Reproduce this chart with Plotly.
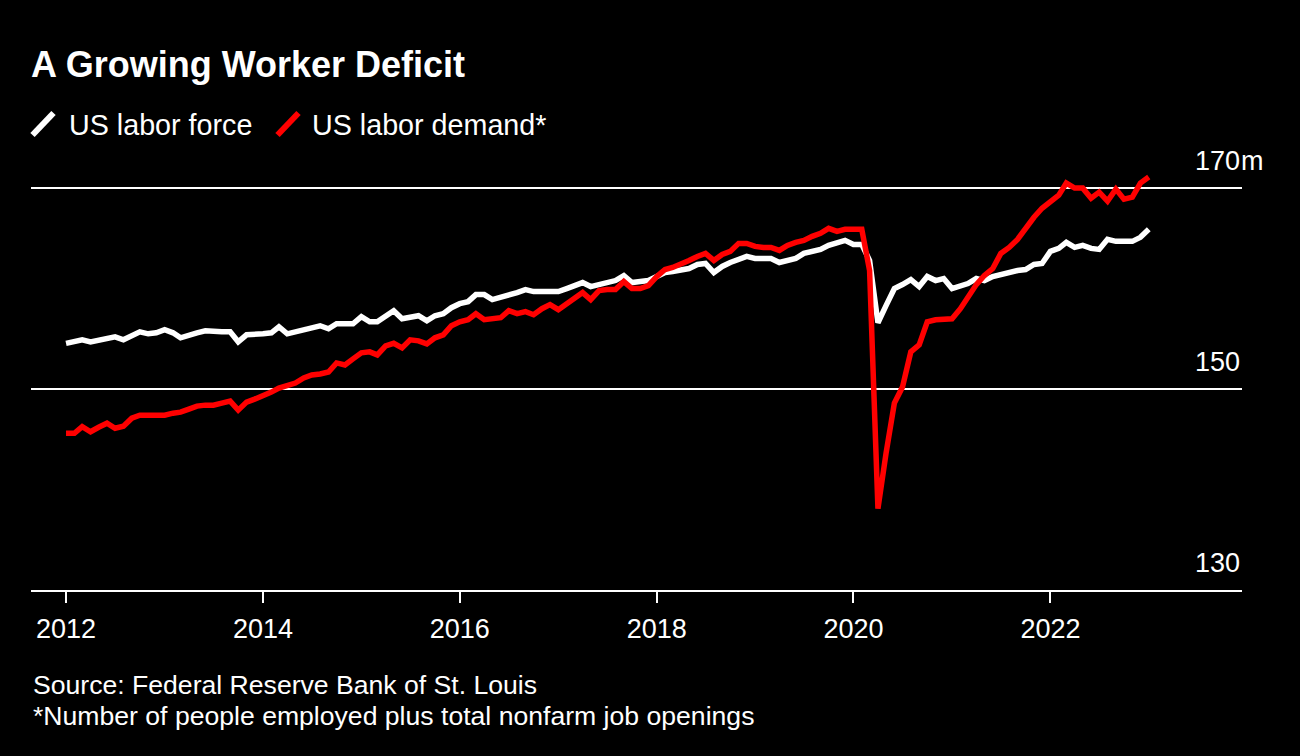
import pandas as pd
import plotly.graph_objects as go

# monthly readings, Jan 2012 - Jan 2023 (millions)
months = pd.date_range("2012-01-01", periods=133, freq="MS")

labor_force = [
    154.55, 154.7, 154.9, 154.7, 154.9, 155.1, 155.2, 154.9, 155.3, 155.7, 155.5, 155.6,  # 2012
    155.9, 155.6, 155.1, 155.4, 155.6, 155.8, 155.7, 155.7, 155.7, 154.7, 155.4, 155.4,  # 2013
    155.5, 155.6, 156.2, 155.5, 155.7, 155.9, 156.1, 156.3, 156.0, 156.5, 156.5, 156.5,  # 2014
    157.2, 156.7, 156.7, 157.2, 157.8, 157.0, 157.1, 157.3, 156.8, 157.3, 157.5, 158.1,  # 2015
    158.5, 158.7, 159.4, 159.4, 158.9, 159.1, 159.3, 159.6, 159.9, 159.7, 159.7, 159.7,  # 2016
    159.7, 160.0, 160.3, 160.6, 160.2, 160.4, 160.6, 160.8, 161.3, 160.6, 160.7, 160.8,  # 2017
    161.2, 161.6, 161.7, 161.8, 162.0, 162.4, 162.5, 161.6, 162.2, 162.6, 162.9, 163.2,  # 2018
    163.0, 163.0, 163.0, 162.6, 162.8, 163.0, 163.5, 163.7, 163.9, 164.3, 164.5, 164.8,  # 2019
    164.4, 164.4, 162.8, 156.6, 158.3, 160.0, 160.4, 160.9, 160.2, 161.2, 160.8, 161.0,  # 2020
    160.0, 160.3, 160.5, 161.0, 160.8, 161.2, 161.4, 161.7, 161.8, 161.9, 162.4, 162.5,  # 2021
    163.7, 164.0, 164.6, 164.1, 164.3, 164.0, 163.9, 164.9, 164.7, 164.7, 164.7, 165.1,  # 2022
    165.9,                                                                                # 2023
]

labor_demand = [
    145.6, 145.6, 146.25, 145.75, 146.2, 146.6, 146.1, 146.3, 147.1, 147.4, 147.4, 147.4,  # 2012
    147.4, 147.6, 147.7, 148.0, 148.3, 148.4, 148.4, 148.6, 148.8, 147.9, 148.7, 149.0,  # 2013
    149.3, 149.7, 150.1, 150.4, 150.6, 151.1, 151.4, 151.5, 151.7, 152.6, 152.4, 153.0,  # 2014
    153.6, 153.7, 153.4, 154.3, 154.55, 154.1, 154.9, 154.8, 154.5, 155.1, 155.4, 156.3,  # 2015
    156.7, 156.9, 157.5, 156.9, 157.0, 157.1, 157.8, 157.5, 157.7, 157.4, 158.0, 158.4,  # 2016
    157.9, 158.5, 159.0, 159.6, 158.9, 159.8, 159.9, 159.9, 160.7, 160.0, 160.0, 160.3,  # 2017
    161.2, 161.9, 162.1, 162.4, 162.8, 163.2, 163.5, 162.8, 163.4, 163.7, 164.5, 164.5,  # 2018
    164.2, 164.1, 164.1, 163.8, 164.3, 164.6, 164.8, 165.2, 165.5, 166.0, 165.7, 165.9,  # 2019
    165.9, 165.9, 161.8, 138.1, 143.6, 148.6, 150.2, 153.7, 154.4, 156.7, 156.9, 156.9,  # 2020
    157.0, 158.0, 159.2, 160.4, 161.3, 162.0, 163.5, 164.1, 164.9, 166.0, 167.1, 168.0,  # 2021
    168.6, 169.3, 170.5, 170.0, 170.0, 169.0, 169.6, 168.7, 169.9, 168.9, 169.1, 170.5,  # 2022
    171.1,                                                                                # 2023
]

year_ticks = [f"{y}-01-01" for y in range(2012, 2023, 2)]
year_labels = [str(y) for y in range(2012, 2023, 2)]
y_ticks = [130, 150, 170]

FONT = "Liberation Sans, Arial, sans-serif"
WHITE = "#ffffff"
RED = "#ff0000"

fig = go.Figure()
fig.add_trace(go.Scatter(x=months, y=labor_force, mode="lines", name="US labor force",
                         line=dict(color=WHITE, width=5.5)))
fig.add_trace(go.Scatter(x=months, y=labor_demand, mode="lines", name="US labor demand*",
                         line=dict(color=RED, width=5.5)))

fig.update_layout(
    width=1300, height=756,
    paper_bgcolor="black", plot_bgcolor="black",
    margin=dict(l=31, r=58, t=163, b=166),
    showlegend=False,
    font=dict(family=FONT, color=WHITE),
    title=dict(text="<b>A Growing Worker Deficit</b>", x=31 / 1300, xanchor="left",
               y=1 - 64 / 756, yanchor="middle", font=dict(size=36, color=WHITE)),
    xaxis=dict(range=["2011-08-24", "2023-12-13"], tickvals=year_ticks, ticktext=year_labels,
               showgrid=False, showline=True, linecolor=WHITE, linewidth=2,
               ticks="outside", ticklen=11, tickwidth=1.5, tickcolor=WHITE,
               ticklabelstandoff=3,
               tickfont=dict(size=27, color=WHITE), zeroline=False),
    yaxis=dict(range=[130, 172.5], tickvals=y_ticks, showticklabels=False,
               showgrid=True, gridcolor=WHITE, gridwidth=1.5, zeroline=False),
)

# right-hand value labels sitting above each gridline
for v in y_ticks:
    fig.add_annotation(x=1, xref="paper", y=v, yref="y", text=str(v), showarrow=False,
                       xanchor="right", yanchor="middle", yshift=27,
                       font=dict(size=27, color=WHITE))
fig.add_annotation(x=1, xref="paper", y=170, yref="y", text="m", showarrow=False,
                   xanchor="left", yanchor="middle", yshift=27, xshift=-3,
                   font=dict(size=27, color=WHITE))

# legend with slanted keys
legend_items = [("US labor force", WHITE, 32.5, 67), ("US labor demand*", RED, 277.5, 310)]
for label, color, kx, tx in legend_items:
    fig.add_shape(type="line", xref="paper", yref="paper",
                  x0=(kx - 31) / 1211, x1=(kx + 21 - 31) / 1211,
                  y0=(590 - 135) / 427, y1=(590 - 113) / 427,
                  line=dict(color=color, width=6))
    fig.add_annotation(x=(tx - 31) / 1211, xref="paper", y=(590 - 125) / 427, yref="paper",
                       text=label, showarrow=False, xanchor="left", yanchor="middle",
                       font=dict(size=28.7, color=WHITE))

# footnotes
fig.add_annotation(x=0, xref="paper", y=(590 - 685) / 427, yref="paper",
                   text="Source: Federal Reserve Bank of St. Louis", showarrow=False,
                   xanchor="left", yanchor="middle", font=dict(size=26.6, color=WHITE))
fig.add_annotation(x=0, xref="paper", y=(590 - 716) / 427, yref="paper",
                   text="*Number of people employed plus total nonfarm job openings",
                   showarrow=False, xanchor="left", yanchor="middle",
                   font=dict(size=26.6, color=WHITE))

# drop the default page margin so the figure fills the window
fig.write_html("out.html", config={"displayModeBar": False},
               post_script="document.body.style.margin='0';document.body.style.background='black';")
